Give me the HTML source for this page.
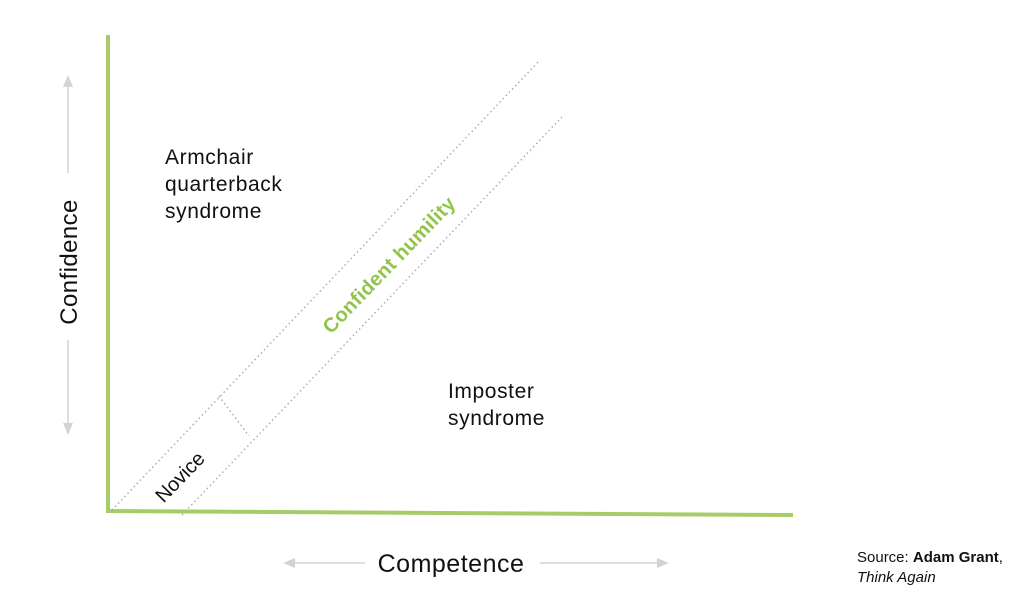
<!DOCTYPE html>
<html><head><meta charset="utf-8"><style>
html,body{margin:0;padding:0;background:#fff;}
body{width:1024px;height:611px;overflow:hidden;}
</style></head><body>
<svg width="1024" height="611" viewBox="0 0 1024 611" xmlns="http://www.w3.org/2000/svg" font-family="Liberation Sans, sans-serif">
<line x1="108" y1="35" x2="108" y2="513" stroke="#a6cc6a" stroke-width="4"/>
<line x1="106" y1="511" x2="793" y2="515" stroke="#a6cc6a" stroke-width="4"/>
<g stroke="#aaa" stroke-width="1.4" stroke-dasharray="1.5 3" fill="none">
<line x1="112" y1="510" x2="540" y2="60"/>
<line x1="182" y1="515" x2="562" y2="117"/>
<line x1="219" y1="396" x2="249" y2="436"/>
</g>
<g stroke="#d3d3d3" stroke-width="1.5">
<line x1="68" y1="84" x2="68" y2="173"/>
<line x1="68" y1="340" x2="68" y2="426"/>
<line x1="292" y1="563" x2="365" y2="563"/>
<line x1="540" y1="563" x2="660" y2="563"/>
</g>
<g fill="#d3d3d3">
<polygon points="68,75 63,87 73,87"/>
<polygon points="68,435 63,423 73,423"/>
<polygon points="283,563 295,558 295,568"/>
<polygon points="669,563 657,558 657,568"/>
</g>
<text x="0" y="0" transform="translate(77,262) rotate(-90)" text-anchor="middle" font-size="24" letter-spacing="0.4" fill="#111">Confidence</text>
<text x="451" y="572" text-anchor="middle" font-size="25" letter-spacing="0.5" fill="#111">Competence</text>
<text font-size="21" letter-spacing="0.6" fill="#111"><tspan x="165" y="164">Armchair</tspan><tspan x="165" y="191">quarterback</tspan><tspan x="165" y="218">syndrome</tspan></text>
<text font-size="21" letter-spacing="0.6" fill="#111"><tspan x="448" y="398">Imposter</tspan><tspan x="448" y="425">syndrome</tspan></text>
<text transform="translate(390,266) rotate(-46)" text-anchor="middle" dominant-baseline="middle" font-size="20" letter-spacing="0.3" font-weight="bold" fill="#92c34a">Confident humility</text>
<text transform="translate(181,478) rotate(-46)" text-anchor="middle" dominant-baseline="middle" font-size="20" fill="#111">Novice</text>
<text font-size="15" fill="#111"><tspan x="857" y="562">Source: <tspan font-weight="bold">Adam Grant</tspan>,</tspan><tspan x="857" y="582" font-style="italic">Think Again</tspan></text>
</svg>
</body></html>
